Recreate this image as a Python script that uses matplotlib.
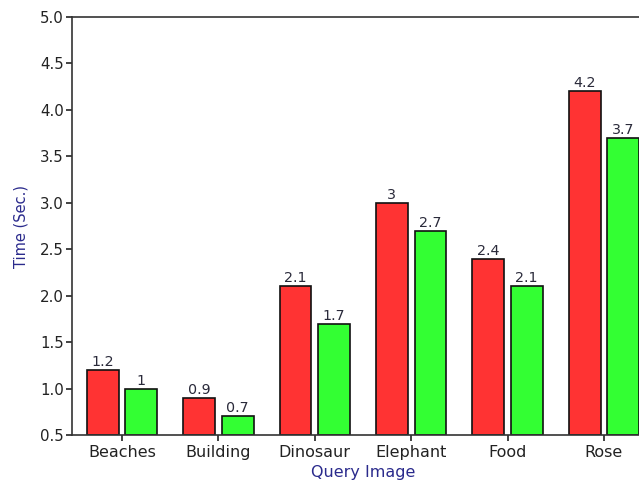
import numpy as np
import matplotlib.pyplot as plt

plt.rcParams['font.family'] = ['DejaVu Sans']

categories = ['Beaches', 'Building', 'Dinosaur', 'Elephant', 'Food', 'Rose']
red_times = [1.2, 0.9, 2.1, 3.0, 2.4, 4.2]
green_times = [1.0, 0.7, 1.7, 2.7, 2.1, 3.7]
red_labels = ['1.2', '0.9', '2.1', '3', '2.4', '4.2']
green_labels = ['1', '0.7', '1.7', '2.7', '2.1', '3.7']

W, H = 639, 482
fig = plt.figure(figsize=(W / 100, H / 100), dpi=100)
# axes run past the right edge of the figure
left, right, top, bottom = 72, 654, 17, 435
ax = fig.add_axes([left / W, 1 - bottom / H, (right - left) / W, (bottom - top) / H])

x = np.arange(len(categories))
w = 0.33
off = 0.2
base = 0.5
ax.bar(x - off, np.array(red_times) - base, w, bottom=base, color='#ff3333',
       edgecolor='#111111', linewidth=1.2)
ax.bar(x + off, np.array(green_times) - base, w, bottom=base, color='#33ff33',
       edgecolor='#111111', linewidth=1.2)

for xi, v, s in zip(x - off, red_times, red_labels):
    ax.text(xi, v + 0.01, s, ha='center', va='bottom', fontsize=10.3, color='#2a2a3a')
for xi, v, s in zip(x + off, green_times, green_labels):
    ax.text(xi, v + 0.01, s, ha='center', va='bottom', fontsize=10.3, color='#2a2a3a')

ax.set_xlim(-0.52, 5.52)
ax.set_ylim(0.5, 5.0)
yt = np.arange(0.5, 5.01, 0.5)
ax.set_yticks(yt)
ax.set_yticklabels([f'{v:.1f}' for v in yt])
ax.set_xticks(x)
ax.set_xticklabels(categories)
ax.tick_params(axis='x', labelsize=11.5, colors='#222222', length=4, width=1.2, pad=3)
ax.tick_params(axis='y', labelsize=10.8, colors='#222222', length=4, width=1.2, pad=2)
for sp in ax.spines.values():
    sp.set_color('#333333')
    sp.set_linewidth(1.2)

ax.set_xlabel('Query Image', fontsize=11.5, color='#2a2a8c', labelpad=4)
ax.set_ylabel('Time (Sec.)', fontsize=10.5, color='#2a2a8c', labelpad=8)

fig.savefig('out.png', dpi=100)
